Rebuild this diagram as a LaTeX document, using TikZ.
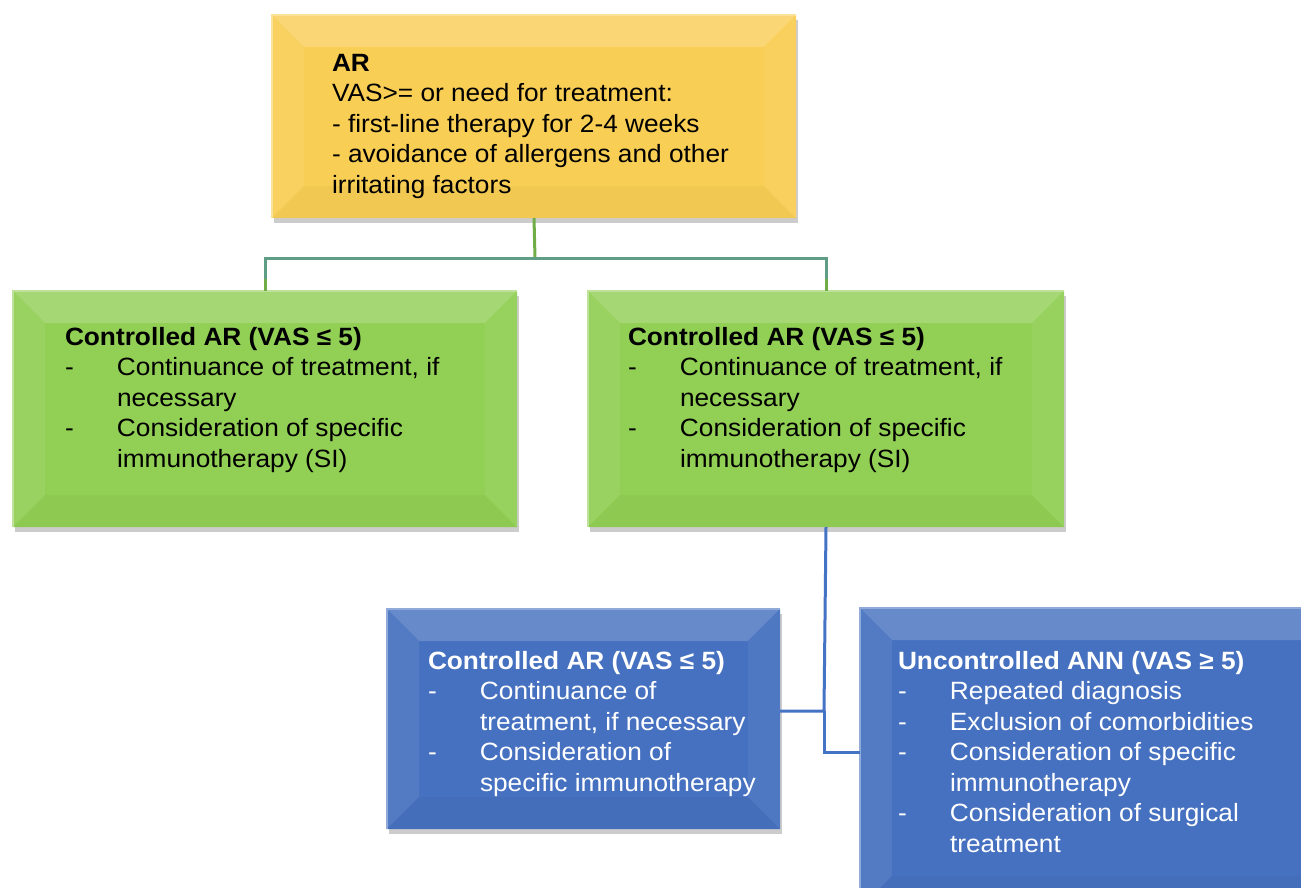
\documentclass[tikz,border=0pt]{standalone}
\usepackage{fontspec}
\setmainfont{Liberation Sans}[FakeStretch=1.05]
\usetikzlibrary{shadows}

\definecolor{ybox}{HTML}{F9CE55}
\definecolor{gbox}{HTML}{92CF55}
\definecolor{bbox}{HTML}{4671C0}
\definecolor{gline}{HTML}{70AD47}
\definecolor{tline}{HTML}{5E9E86}
\definecolor{bline}{HTML}{4472C4}

\newcommand{\bevelbox}[2]{%
  \fill[#2!82!white] (#1.north west) -- (#1.north east) -- ([xshift=-32pt,yshift=-32pt]#1.north east) -- ([xshift=32pt,yshift=-32pt]#1.north west) -- cycle;
  \fill[#2!93!white] (#1.north west) -- ([xshift=32pt,yshift=-32pt]#1.north west) -- ([xshift=32pt,yshift=32pt]#1.south west) -- (#1.south west) -- cycle;
  \fill[#2!97!black] (#1.south west) -- ([xshift=32pt,yshift=32pt]#1.south west) -- ([xshift=-32pt,yshift=32pt]#1.south east) -- (#1.south east) -- cycle;
  \fill[#2!95!white] (#1.north east) -- ([xshift=-32pt,yshift=-32pt]#1.north east) -- ([xshift=-32pt,yshift=32pt]#1.south east) -- (#1.south east) -- cycle;
  \draw[#2!60!white, line width=1.5pt] (#1.south west) -- (#1.north west) -- (#1.north east);
}
\newcommand{\itm}[1]{\makebox[52pt][l]{-}#1}
\newcommand{\cnt}[1]{\hspace*{52pt}#1}

\begin{document}
\begin{tikzpicture}[x=1pt,y=-1pt,
  box/.style={draw=none, inner sep=0pt, outer sep=0pt, anchor=north west,
    drop shadow={shadow xshift=2pt, shadow yshift=-5pt, fill=black, opacity=0.2}},
  txt/.style={anchor=north west, inner sep=0pt, outer sep=0pt, align=left,
    font=\fontsize{25}{30.5}\selectfont},
  conn/.style={line width=3pt}]
\clip (0,0) rectangle (1301,887);
\fill[white] (0,0) rectangle (1301,887);

% connectors
\coordinate (j1) at (535,258);
\coordinate (j2) at (824,711);
\coordinate (j3) at (824,752);

% boxes
\node[box, fill=ybox, minimum width=524pt, minimum height=203pt] (top) at (272,15) {};
\node[box, fill=gbox, minimum width=504pt, minimum height=236pt] (gl) at (13,291) {};
\node[box, fill=gbox, minimum width=476pt, minimum height=236pt] (gr) at (588,291) {};
\node[box, fill=bbox, minimum width=393pt, minimum height=220pt] (bl) at (387,609) {};
\node[draw=none, inner sep=0pt, outer sep=0pt, anchor=north west, fill=bbox, minimum width=480pt, minimum height=300pt] (br) at (860,608) {};

\bevelbox{top}{ybox}
\bevelbox{gl}{gbox}
\bevelbox{gr}{gbox}
\bevelbox{bl}{bbox}
\bevelbox{br}{bbox}

\draw[conn, gline] (top.south) -- (j1);
\draw[conn, tline] (gl.north) |- (j1) -| (gr.north);
\draw[conn, gline] (gl.north) -- ++(0,-12);
\draw[conn, gline] (gr.north) -- ++(0,-12);
\draw[conn, bline] (gr.south) -- (j2) -- (bl.east |- j2);
\draw[conn, bline] (j2) -- (j3) -- (br.west |- j3);

% texts
\node[txt] (ttop) at (332,54) {\textbf{AR}\\
VAS>= or need for treatment:\\
- first-line therapy for 2-4 weeks\\
- avoidance of allergens and other\\
irritating factors};

\node[txt] (tgl) at (65,327) {\textbf{Controlled AR (VAS ≤ 5)}\\
\itm{Continuance of treatment, if}\\
\cnt{necessary}\\
\itm{Consideration of specific}\\
\cnt{immunotherapy (SI)}};

\node[txt] (tgr) at (628,327) {\textbf{Controlled AR (VAS ≤ 5)}\\
\itm{Continuance of treatment, if}\\
\cnt{necessary}\\
\itm{Consideration of specific}\\
\cnt{immunotherapy (SI)}};

\node[txt, text=white] (tbl) at (428,651) {\textbf{Controlled AR (VAS ≤ 5)}\\
\itm{Continuance of}\\
\cnt{treatment, if necessary}\\
\itm{Consideration of}\\
\cnt{specific immunotherapy}};

\node[txt, text=white] (tbr) at (898,651) {\textbf{Uncontrolled ANN (VAS ≥ 5)}\\
\itm{Repeated diagnosis}\\
\itm{Exclusion of comorbidities}\\
\itm{Consideration of specific}\\
\cnt{immunotherapy}\\
\itm{Consideration of surgical}\\
\cnt{treatment}};
\end{tikzpicture}
\end{document}
